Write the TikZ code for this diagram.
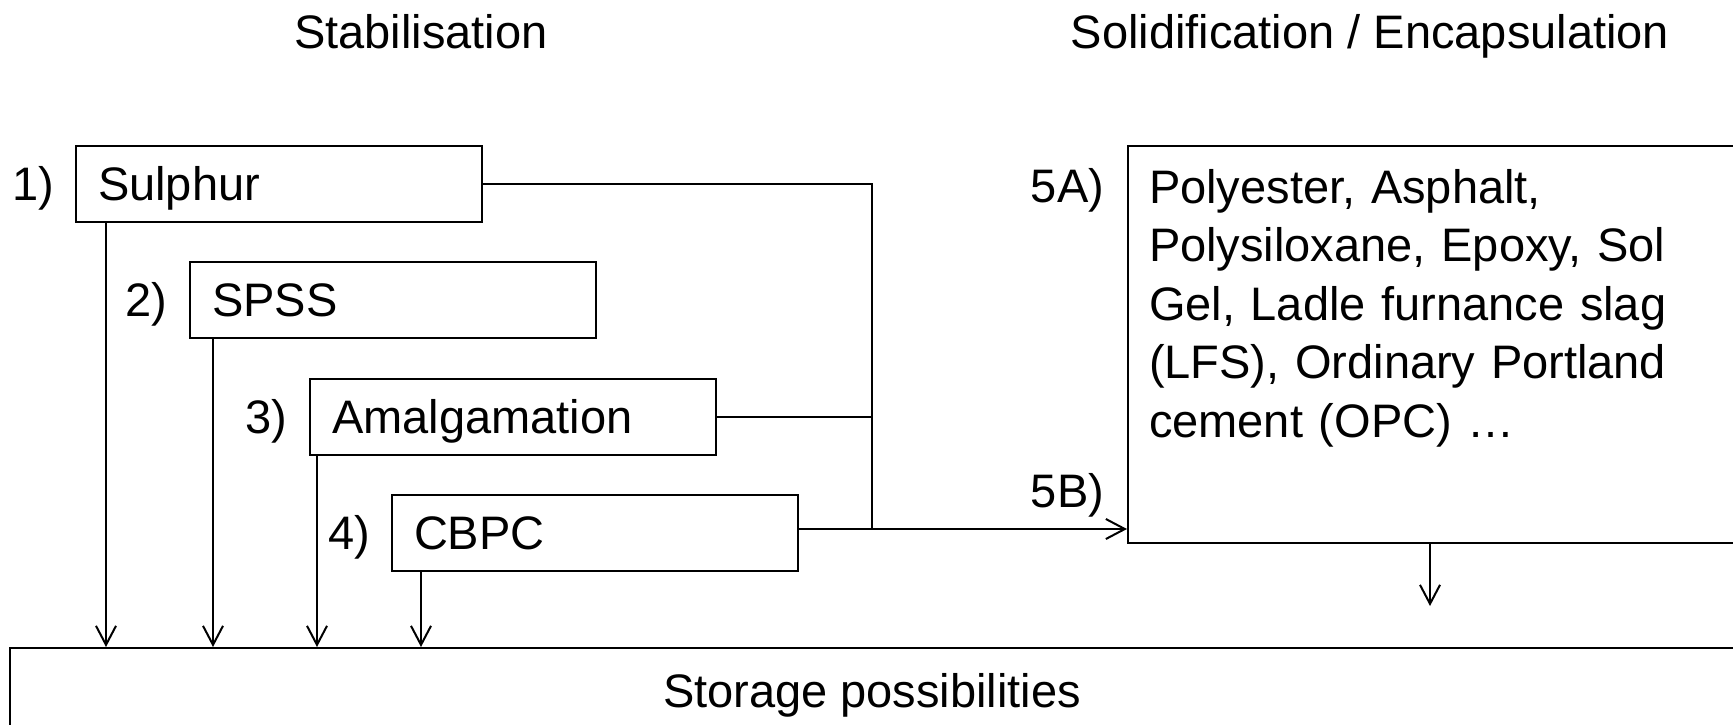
\documentclass[tikz,border=0pt]{standalone}
\usepackage{fontspec}
\setmainfont{Liberation Sans}
\usetikzlibrary{arrows.meta}
\begin{document}
\begin{tikzpicture}[x=0.5pt,y=-0.5pt, line width=1pt,
  every node/.style={font=\fontsize{23.5}{29.3}\selectfont},
  capc/.style={text height=16.8pt, text depth=0pt},
  box/.style={draw, rectangle, anchor=north west, minimum width=203pt, minimum height=38pt,
    text width=181pt, inner xsep=11pt, inner ysep=0pt, align=left, capc},
  lbl/.style={inner sep=0pt, anchor=east, capc},
  arr/.style={-{Straight Barb[length=9.5pt,width=10pt]}}]
\useasboundingbox (0,0) rectangle (1733,724);
\clip (0,0) rectangle (1733,724);

% titles
\node[capc] (t1) at (421,32) {Stabilisation};
\node[capc] (t2) at (1370,32) {Solidification / Encapsulation};

% stabilisation boxes
\node[box] (sul)  at (75,145)  {Sulphur};
\node[box] (spss) at (189,261) {SPSS};
\node[box] (amal) at (309,378) {Amalgamation};
\node[box] (cbpc) at (391,494) {CBPC};
\node[lbl] (l1) at ([xshift=-10pt]sul.west)  {1)};
\node[lbl] (l2) at ([xshift=-10.5pt]spss.west) {2)};
\node[lbl] (l3) at ([xshift=-10.5pt]amal.west) {3)};
\node[lbl] (l4) at ([xshift=-10pt]cbpc.west) {4)};

% encapsulation box
\node[draw, anchor=north west, minimum width=306.5pt, minimum height=198.5pt, inner sep=0pt] (enc) at (1127,145) {};
\node[anchor=north west, inner sep=0pt, text width=300pt, align=left] (enctxt) at (1148,168)
  {Polyester, Asphalt,\\Polysiloxane, Epoxy, Sol\\Gel, Ladle furnance slag\\(LFS), Ordinary Portland\\cement (OPC) …};
\node[anchor=base east, inner sep=0pt] (l5a) at (1105,202) {5A)};
\node[anchor=base east, inner sep=0pt] (l5b) at (1105,507) {5B)};

% storage box
\node[draw, minimum width=862pt, minimum height=43pt, inner sep=0pt, capc] (store) at (872,691) {Storage possibilities};

% connectors to encapsulation
\coordinate (jn) at (872,0);
\coordinate (c4) at ([yshift=2pt]cbpc.east);
\draw (sul.east) -| (jn |- c4);
\draw (amal.east) -- (amal.east -| jn);
\draw[arr] (c4) -- (c4 -| enc.west);

% arrows down to storage
\coordinate (s1) at ([xshift=15.5pt]sul.south west);
\coordinate (s2) at ([xshift=12pt]spss.south west);
\coordinate (s3) at ([xshift=4pt]amal.south west);
\coordinate (s4) at ([xshift=15pt]cbpc.south west);
\draw[arr] (s1) -- (s1 |- store.north);
\draw[arr] (s2) -- (s2 |- store.north);
\draw[arr] (s3) -- (s3 |- store.north);
\draw[arr] (s4) -- (s4 |- store.north);

% arrow out of encapsulation box
\coordinate (encout) at (1430,606);
\draw[arr] (encout |- enc.south) -- (encout);
\end{tikzpicture}
\end{document}
